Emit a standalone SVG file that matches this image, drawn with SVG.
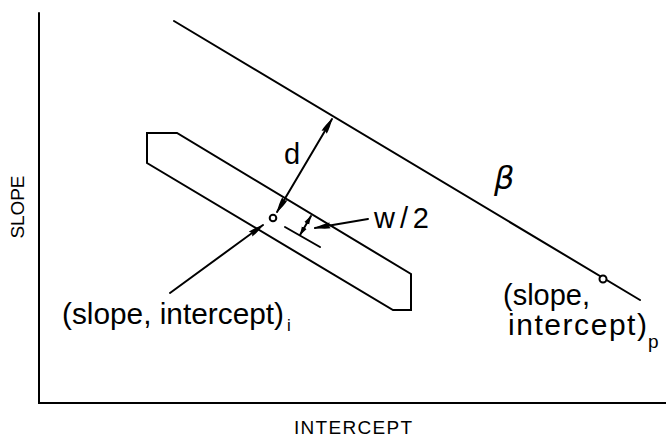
<svg xmlns="http://www.w3.org/2000/svg" width="666" height="438" viewBox="0 0 666 438">
<style>
.ln{fill:none;stroke:#000;stroke-width:2;stroke-linecap:round;stroke-linejoin:miter}
.t{font-family:"Liberation Sans",Arial,sans-serif;fill:#000}
.dot{fill:#fff;stroke:#000;stroke-width:2}
</style>
<defs>
<marker id="ah" viewBox="0 0 16 8" refX="15.5" refY="4" markerWidth="16" markerHeight="8" markerUnits="userSpaceOnUse" orient="auto-start-reverse">
<path d="M0,1 Q6,1 16,4 Q6,7 0,7 L2,4 z" fill="#000"/>
</marker>
<marker id="ahs" viewBox="0 0 10 7" refX="9.5" refY="3.5" markerWidth="9" markerHeight="7" markerUnits="userSpaceOnUse" orient="auto-start-reverse">
<path d="M0,0.5 L10,3.5 L0,6.5 z" fill="#000"/>
</marker>
</defs>
<rect width="666" height="438" fill="#fff"/>
<g id="axes">
<path class="ln" d="M39,13 L39,403 L666,403"/>
<text class="t" font-size="19" text-anchor="middle" textLength="63" lengthAdjust="spacing" transform="translate(24,207) rotate(-90)">SLOPE</text>
<text class="t" font-size="19" x="294" y="434" textLength="118" lengthAdjust="spacing">INTERCEPT</text>
</g>
<g id="beta-line">
<path class="ln" d="M174,21 L640,300"/>
<text x="494" y="189" font-family="DejaVu Sans, sans-serif" font-style="italic" font-size="32">β</text>
</g>
<g id="band">
<path class="ln" d="M147,133 L177,133 L411,274 L411,310 L393,310 L147,163 Z"/>
</g>
<g id="point-i">
<circle class="dot" cx="273" cy="218" r="3.3"/>
<text class="t" font-size="30" x="62" y="324" textLength="222" lengthAdjust="spacingAndGlyphs">(slope, intercept)</text>
<text class="t" font-size="17" x="287" y="331">i</text>
</g>
<g id="point-p">
<circle class="dot" cx="603" cy="279" r="3.5"/>
<text class="t" font-size="30" x="503" y="305" textLength="87" lengthAdjust="spacingAndGlyphs">(slope,</text>
<text class="t" font-size="30" x="508" y="335" textLength="139" lengthAdjust="spacing">intercept)</text>
<text class="t" font-size="19" x="648" y="348">p</text>
</g>
<g id="labels">
<text class="t" font-size="29" x="284" y="164">d</text>
<text class="t" font-size="29" x="374" y="228" textLength="55" lengthAdjust="spacing">w/2</text>
</g>
<g id="connectors">
<path class="ln" d="M277,212 L332,119" marker-start="url(#ah)" marker-end="url(#ah)"/>
<path class="ln" d="M285,227 L320,247"/>
<path class="ln" d="M300,235 L311,216" marker-start="url(#ahs)" marker-end="url(#ahs)"/>
<path class="ln" d="M368,219 L315,228" marker-end="url(#ah)"/>
<path class="ln" d="M170,293 L263,225" marker-end="url(#ah)"/>
</g>
</svg>
